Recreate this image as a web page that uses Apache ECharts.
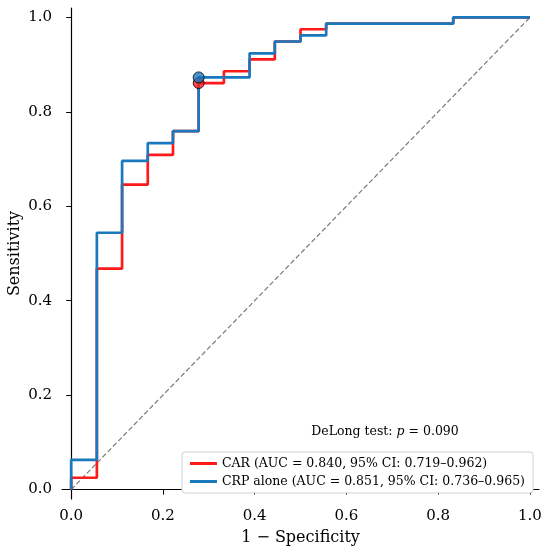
<!DOCTYPE html>
<html>
<head>
<meta charset="utf-8">
<script src="https://cdn.jsdelivr.net/npm/echarts@6/dist/echarts.min.js"></script>
<style>
  html, body { margin: 0; padding: 0; background: #fff; }
  #chart { width: 550px; height: 554px; }
</style>
</head>
<body>
<div id="chart"></div>
<script>
// ROC step points (1 - specificity, sensitivity), step drawn horizontal then vertical
const carFpr = [0, 0, 0.056, 0.111, 0.167, 0.222, 0.278, 0.333, 0.389, 0.444, 0.5, 0.556, 0.833, 1.0]
const carTpr = [0, 0.025, 0.468, 0.646, 0.709, 0.759, 0.861, 0.886, 0.911, 0.949, 0.975, 0.987, 1.0, 1.0]
const crpFpr = [0, 0, 0.056, 0.111, 0.167, 0.222, 0.278, 0.389, 0.444, 0.5, 0.556, 0.833, 1.0]
const crpTpr = [0, 0.063, 0.544, 0.696, 0.734, 0.759, 0.873, 0.924, 0.949, 0.962, 0.987, 1.0, 1.0]

// optimal cut-off points
const carCut = [0.278, 0.861]
const crpCut = [0.278, 0.873]

const diagX = [0, 1]
const diagY = [0, 1]

const tickValues = [0, 0.2, 0.4, 0.6, 0.8, 1.0]
const seriesNames = ['CAR (AUC = 0.840, 95% CI: 0.719–0.962)', 'CRP alone (AUC = 0.851, 95% CI: 0.736–0.965)']
const pValue = '0.090'

const RED = '#ff1a1a'
const BLUE = '#1a78bd'
const FONT = 'DejaVu Serif'

const zip = (xs, ys) => xs.map((x, i) => [x, ys[i]])

const chart = echarts.init(document.getElementById('chart'))

const axisCommon = {
  type: 'value',
  min: -0.02,
  max: 1.02,
  splitLine: { show: false },
  axisLine: { show: true, lineStyle: { color: '#000', width: 1.2 } },
  axisTick: { show: true, length: 5, customValues: tickValues, lineStyle: { color: '#000', width: 1 } },
  axisLabel: {
    customValues: tickValues,
    formatter: v => v.toFixed(1),
    color: '#000', fontFamily: FONT, fontSize: 15, margin: 10
  },
  nameLocation: 'middle',
  nameMoveOverlap: false,
  nameTextStyle: { color: '#000', fontFamily: FONT, fontSize: 16 }
}

const option = {
  animation: false,
  backgroundColor: '#fff',
  textStyle: { fontFamily: FONT },
  grid: { left: 62, right: 11, top: 8, bottom: 55, containLabel: false, outerBoundsMode: 'none' },
  xAxis: Object.assign({}, axisCommon, { name: '1 − Specificity', nameGap: 31 }),
  yAxis: Object.assign({}, axisCommon, { name: 'Sensitivity', nameGap: 39 }),
  legend: {
    data: seriesNames,
    orient: 'vertical',
    right: 17,
    bottom: 61,
    padding: [5, 8, 5, 8],
    itemGap: 5,
    itemWidth: 27,
    itemHeight: 3,
    icon: 'rect',
    borderColor: '#d0d0d0',
    borderWidth: 1,
    borderRadius: 3,
    backgroundColor: '#fff',
    textStyle: { color: '#000', fontFamily: FONT, fontSize: 12.5 }
  },
  graphic: [{
    type: 'text',
    x: 385,
    y: 432,
    style: {
      text: '{a|DeLong test: }{i|p}{a| = ' + pValue + '}',
      align: 'center',
      verticalAlign: 'middle',
      rich: {
        a: { fontFamily: FONT, fontSize: 12.5, fill: '#000' },
        i: { fontFamily: FONT, fontSize: 12.5, fontStyle: 'italic', fill: '#000' }
      }
    }
  }],
  series: [
    {
      name: 'diag',
      type: 'line',
      data: zip(diagX, diagY),
      showSymbol: false,
      lineStyle: { color: '#7a7a7a', width: 1.2, type: [5, 2.5] },
      z: 1
    },
    {
      name: seriesNames[0],
      type: 'line',
      step: 'end',
      data: zip(carFpr, carTpr),
      showSymbol: false,
      color: RED,
      lineStyle: { color: RED, width: 2.7 },
      z: 2
    },
    {
      name: seriesNames[1],
      type: 'line',
      step: 'end',
      data: zip(crpFpr, crpTpr),
      showSymbol: false,
      color: BLUE,
      lineStyle: { color: BLUE, width: 2.7 },
      z: 3
    },
    {
      name: 'carCut',
      type: 'scatter',
      data: [carCut],
      symbolSize: 11,
      itemStyle: { color: RED, borderColor: '#000', borderWidth: 1 },
      z: 4
    },
    {
      name: 'crpCut',
      type: 'scatter',
      data: [crpCut],
      symbolSize: 11,
      itemStyle: { color: BLUE, borderColor: '#000', borderWidth: 1 },
      z: 5
    }
  ]
}

chart.setOption(option)
</script>
</body>
</html>
